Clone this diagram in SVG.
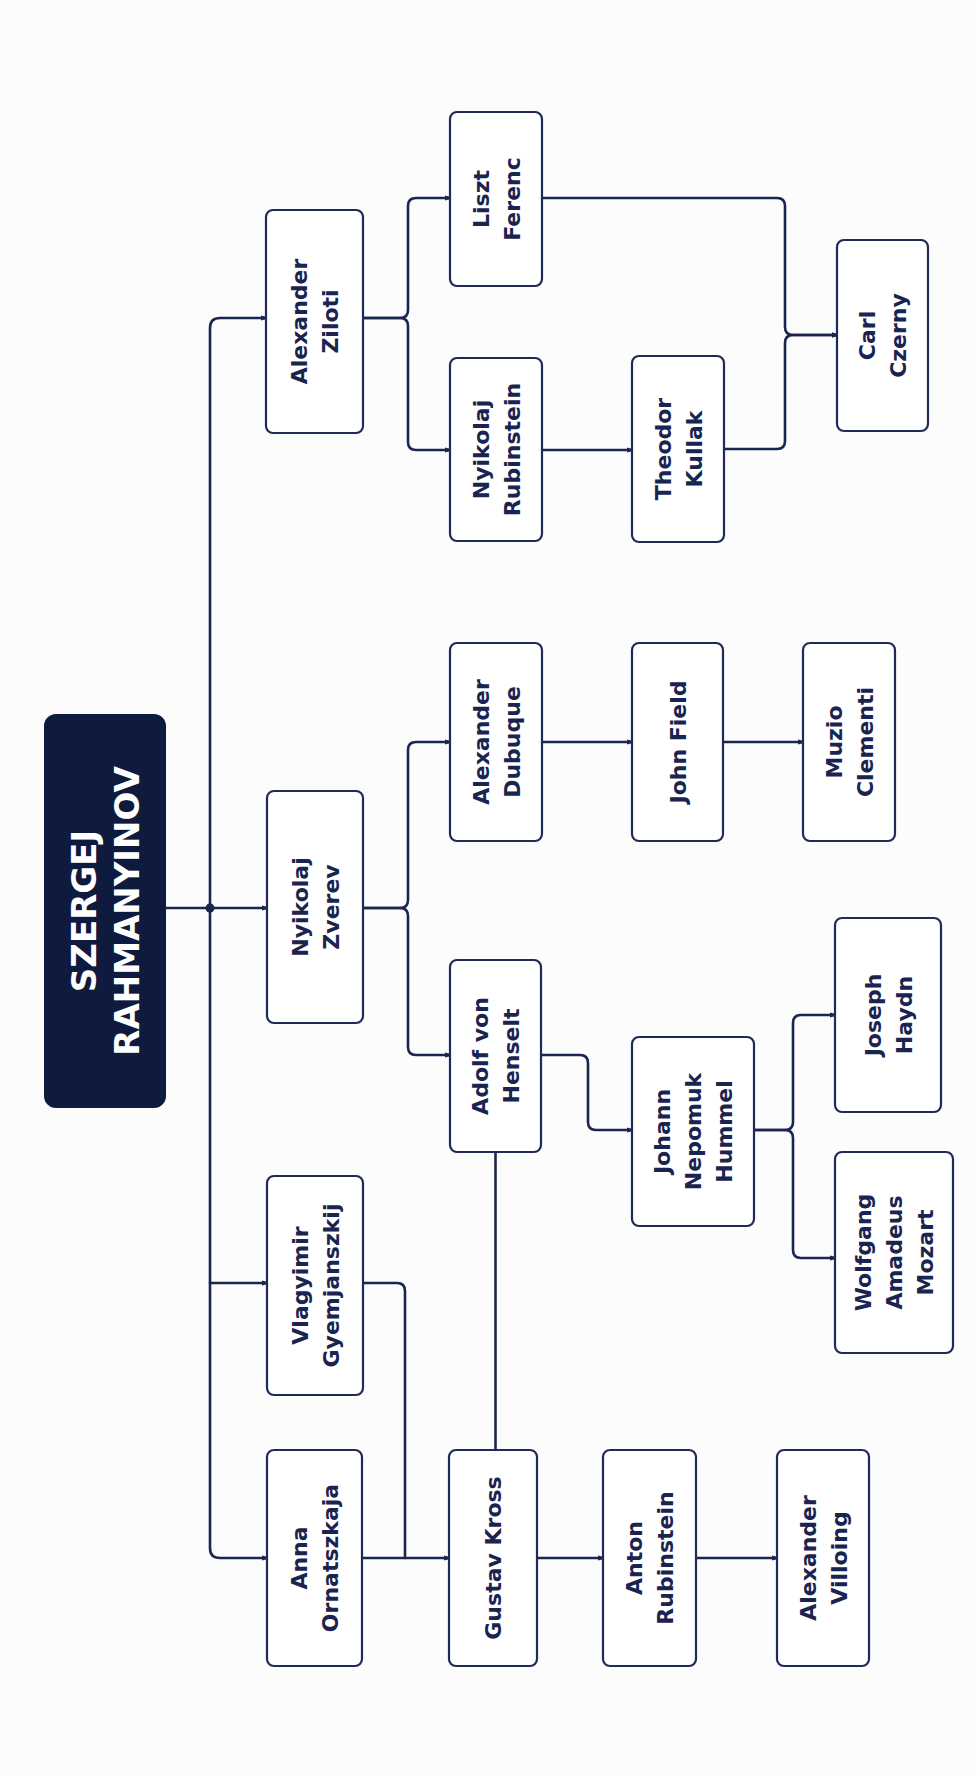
<svg xmlns="http://www.w3.org/2000/svg" width="977" height="1775" viewBox="0 0 977 1775">
<defs>
<style>
.bg{fill:#fcfcfd}
.box{fill:#ffffff;stroke:#1f2a56;stroke-width:2.2}
.root{fill:#0e1b3e;stroke:#0e1b3e;stroke-width:2}
.lbl{font-family:"DejaVu Sans","Liberation Sans",sans-serif;font-weight:700;font-size:22px;fill:#1a2450;text-anchor:middle;dominant-baseline:central}
.rlbl{font-family:"DejaVu Sans","Liberation Sans",sans-serif;font-weight:700;font-size:34px;fill:#ffffff;text-anchor:middle;dominant-baseline:central}
.ln{fill:none;stroke:#1a2550;stroke-width:2.6;stroke-linejoin:round;stroke-linecap:round}
.arr{marker-end:url(#tip)}
</style>
<marker id="tip" markerWidth="6" markerHeight="6" refX="5" refY="3" orient="auto" markerUnits="userSpaceOnUse">
<path d="M0,0.6 L5.5,2 L5.5,4 L0,5.4 Z" fill="#1a2550"/>
</marker>
</defs>
<rect class="bg" x="0" y="0" width="977" height="1775"/>

<g id="connectors">
<!-- trunk -->
<path class="ln" d="M165,908 H210"/>
<path class="ln arr" d="M210,908 V328 Q210,318 220,318 H266"/>
<path class="ln arr" d="M210,908 H267"/>
<path class="ln arr" d="M210,908 V1548 Q210,1558 220,1558 H267"/>
<path class="ln arr" d="M210,1283 H267"/>
<circle cx="210" cy="908" r="4.5" fill="#1a2550"/>
<!-- Ziloti -->
<path class="ln arr" d="M363,318 H400 Q408,318 408,310 V206 Q408,198 416,198 H450"/>
<path class="ln arr" d="M363,318 H400 Q408,318 408,326 V442 Q408,450 416,450 H450"/>
<path class="ln arr" d="M542,450 H632"/>
<path class="ln arr" d="M542,198 H777 Q785,198 785,206 V327 Q785,335 793,335 H837"/>
<path class="ln arr" d="M724,449 H777 Q785,449 785,441 V343 Q785,335 793,335 H837"/>
<!-- Zverev -->
<path class="ln arr" d="M363,908 H400 Q408,908 408,900 V750 Q408,742 416,742 H450"/>
<path class="ln arr" d="M363,908 H400 Q408,908 408,916 V1047 Q408,1055 416,1055 H450"/>
<path class="ln arr" d="M542,742 H632"/>
<path class="ln arr" d="M723,742 H803"/>
<path class="ln arr" d="M541,1055 H580 Q588,1055 588,1063 V1122 Q588,1130 596,1130 H632"/>
<path class="ln arr" d="M754,1130 H785 Q793,1130 793,1122 V1023 Q793,1015 801,1015 H835"/>
<path class="ln arr" d="M754,1130 H785 Q793,1130 793,1138 V1250 Q793,1258 801,1258 H835"/>
<path class="ln" d="M495.5,1152 V1450"/>
<!-- Kross -->
<path class="ln" d="M363,1283 H397 Q405,1283 405,1291 V1558"/>
<path class="ln arr" d="M362,1558 H449"/>
<path class="ln arr" d="M537,1558 H603"/>
<path class="ln arr" d="M696,1558 H777"/>
</g>

<g id="n-root">
<rect class="root" x="45" y="715" width="120" height="392" rx="11"/>
<text class="rlbl" transform="translate(105,911) rotate(-90)"><tspan x="0" y="-21.5">SZERGEJ</tspan><tspan x="0" y="21.5">RAHMANYINOV</tspan></text>
</g>
<g id="n-ziloti">
<rect class="box" x="266" y="210" width="97" height="223" rx="7"/>
<text class="lbl" transform="translate(314.5,321.5) rotate(-90)"><tspan x="0" y="-15.5">Alexander</tspan><tspan x="0" y="15.5">Ziloti</tspan></text>
</g>
<g id="n-zverev">
<rect class="box" x="267" y="791" width="96" height="232" rx="7"/>
<text class="lbl" transform="translate(315,907) rotate(-90)"><tspan x="0" y="-15.5">Nyikolaj</tspan><tspan x="0" y="15.5">Zverev</tspan></text>
</g>
<g id="n-vlagyimir">
<rect class="box" x="267" y="1176" width="96" height="219" rx="7"/>
<text class="lbl" transform="translate(315,1285.5) rotate(-90)"><tspan x="0" y="-15.5">Vlagyimir</tspan><tspan x="0" y="15.5">Gyemjanszkij</tspan></text>
</g>
<g id="n-anna">
<rect class="box" x="267" y="1450" width="95" height="216" rx="7"/>
<text class="lbl" transform="translate(314.5,1558) rotate(-90)"><tspan x="0" y="-15.5">Anna</tspan><tspan x="0" y="15.5">Ornatszkaja</tspan></text>
</g>
<g id="n-liszt">
<rect class="box" x="450" y="112" width="92" height="174" rx="7"/>
<text class="lbl" transform="translate(496,199) rotate(-90)"><tspan x="0" y="-15.5">Liszt</tspan><tspan x="0" y="15.5">Ferenc</tspan></text>
</g>
<g id="n-nyrubinstein">
<rect class="box" x="450" y="358" width="92" height="183" rx="7"/>
<text class="lbl" transform="translate(496,449.5) rotate(-90)"><tspan x="0" y="-15.5">Nyikolaj</tspan><tspan x="0" y="15.5">Rubinstein</tspan></text>
</g>
<g id="n-kullak">
<rect class="box" x="632" y="356" width="92" height="186" rx="7"/>
<text class="lbl" transform="translate(678,449) rotate(-90)"><tspan x="0" y="-15.5">Theodor</tspan><tspan x="0" y="15.5">Kullak</tspan></text>
</g>
<g id="n-czerny">
<rect class="box" x="837" y="240" width="91" height="191" rx="7"/>
<text class="lbl" transform="translate(882.5,335.5) rotate(-90)"><tspan x="0" y="-15.5">Carl</tspan><tspan x="0" y="15.5">Czerny</tspan></text>
</g>
<g id="n-dubuque">
<rect class="box" x="450" y="643" width="92" height="198" rx="7"/>
<text class="lbl" transform="translate(496,742) rotate(-90)"><tspan x="0" y="-15.5">Alexander</tspan><tspan x="0" y="15.5">Dubuque</tspan></text>
</g>
<g id="n-field">
<rect class="box" x="632" y="643" width="91" height="198" rx="7"/>
<text class="lbl" transform="translate(677.5,742) rotate(-90)"><tspan x="0" y="0">John Field</tspan></text>
</g>
<g id="n-clementi">
<rect class="box" x="803" y="643" width="92" height="198" rx="7"/>
<text class="lbl" transform="translate(849,742) rotate(-90)"><tspan x="0" y="-15.5">Muzio</tspan><tspan x="0" y="15.5">Clementi</tspan></text>
</g>
<g id="n-henselt">
<rect class="box" x="450" y="960" width="91" height="192" rx="7"/>
<text class="lbl" transform="translate(495.5,1056) rotate(-90)"><tspan x="0" y="-15.5">Adolf von</tspan><tspan x="0" y="15.5">Henselt</tspan></text>
</g>
<g id="n-hummel">
<rect class="box" x="632" y="1037" width="122" height="189" rx="7"/>
<text class="lbl" transform="translate(693,1131.5) rotate(-90)"><tspan x="0" y="-31">Johann</tspan><tspan x="0" y="0">Nepomuk</tspan><tspan x="0" y="31">Hummel</tspan></text>
</g>
<g id="n-haydn">
<rect class="box" x="835" y="918" width="106" height="194" rx="7"/>
<text class="lbl" transform="translate(888,1015) rotate(-90)"><tspan x="0" y="-15.5">Joseph</tspan><tspan x="0" y="15.5">Haydn</tspan></text>
</g>
<g id="n-mozart">
<rect class="box" x="835" y="1152" width="118" height="201" rx="7"/>
<text class="lbl" transform="translate(894,1252.5) rotate(-90)"><tspan x="0" y="-31">Wolfgang</tspan><tspan x="0" y="0">Amadeus</tspan><tspan x="0" y="31">Mozart</tspan></text>
</g>
<g id="n-kross">
<rect class="box" x="449" y="1450" width="88" height="216" rx="7"/>
<text class="lbl" transform="translate(493,1558) rotate(-90)"><tspan x="0" y="0">Gustav Kross</tspan></text>
</g>
<g id="n-anton">
<rect class="box" x="603" y="1450" width="93" height="216" rx="7"/>
<text class="lbl" transform="translate(649.5,1558) rotate(-90)"><tspan x="0" y="-15.5">Anton</tspan><tspan x="0" y="15.5">Rubinstein</tspan></text>
</g>
<g id="n-villoing">
<rect class="box" x="777" y="1450" width="92" height="216" rx="7"/>
<text class="lbl" transform="translate(823,1558) rotate(-90)"><tspan x="0" y="-15.5">Alexander</tspan><tspan x="0" y="15.5">Villoing</tspan></text>
</g>
</svg>
